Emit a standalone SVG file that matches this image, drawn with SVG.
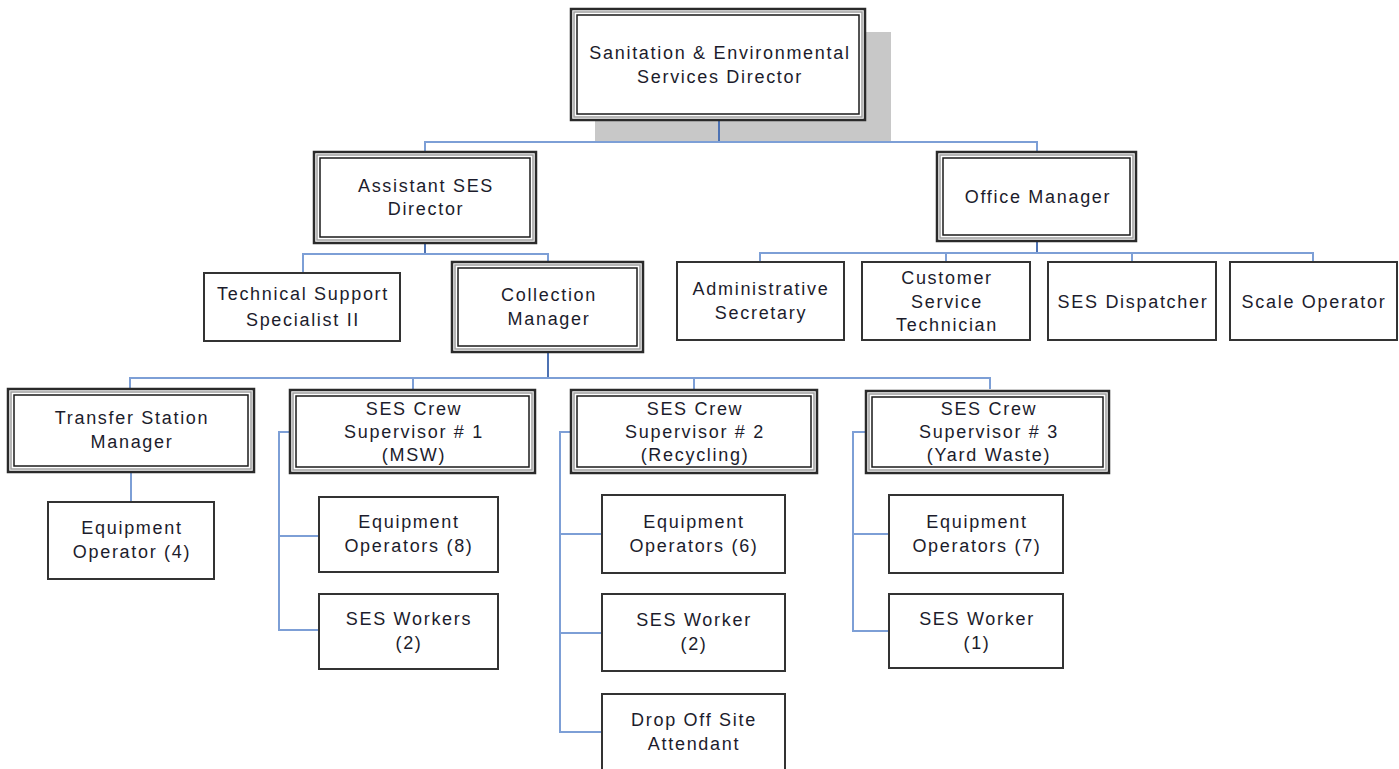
<svg xmlns="http://www.w3.org/2000/svg" width="1399" height="769" viewBox="0 0 1399 769">
<style>
.o{fill:#fff;stroke:#2a2a2a;stroke-width:2.5}
.m{fill:none;stroke:#a0a0a0;stroke-width:1.5}
.i{fill:none;stroke:#1a1a1a;stroke-width:1.5}
.s{fill:#fff;stroke:#333;stroke-width:2}
.c{fill:none;stroke:#7d9fd6;stroke-width:2}
.cd{fill:none;stroke:#4d72b3;stroke-width:2}
text{font-family:"Liberation Sans",Arial,sans-serif;font-size:18px;letter-spacing:1.7px;fill:#1c1c2c;text-anchor:middle}
</style>
<rect x="595" y="32" width="296" height="110" fill="#c8c8c8"/>
<g id="connectors">
<path class="cd" d="M719 120V142"/>
<path class="c" d="M425 152V142H1037V152"/>
<path class="cd" d="M425 243V254"/>
<path class="c" d="M303 273V254H548V262"/>
<path class="cd" d="M1037 241V253"/>
<path class="c" d="M760 262V253H1313V262M946 253V262M1132 253V262"/>
<path class="cd" d="M548 352V378"/>
<path class="c" d="M130 389V378H990V389M413 378V389M694 378V389"/>
<path class="c" d="M131 472V502"/>
<path class="c" d="M290 432H279V630H319M279 536H319"/>
<path class="c" d="M571 432H560V732H602M560 534H602M560 633H602"/>
<path class="c" d="M866 432H853V631H889M853 534H889"/>
</g>
<g id="director"><rect class="o" x="571" y="9" width="294" height="111"/><rect class="m" x="574" y="12" width="288" height="105"/><rect class="i" x="577" y="15" width="282" height="99"/><text x="720" y="59">Sanitation &amp; Environmental</text><text x="720" y="83">Services Director</text></g>
<g id="assistant"><rect class="o" x="314" y="152" width="222" height="91"/><rect class="m" x="317" y="155" width="216" height="85"/><rect class="i" x="320" y="158" width="210" height="79"/><text x="426" y="192">Assistant SES</text><text x="426" y="215">Director</text></g>
<g id="office"><rect class="o" x="937" y="152" width="199" height="89"/><rect class="m" x="940" y="155" width="193" height="83"/><rect class="i" x="943" y="158" width="187" height="77"/><text x="1038" y="203">Office Manager</text></g>
<g id="techsupport"><rect class="s" x="204" y="273" width="196" height="68"/><text x="303" y="300">Technical Support</text><text x="303" y="326">Specialist II</text></g>
<g id="collection"><rect class="o" x="452" y="262" width="191" height="90"/><rect class="m" x="455" y="265" width="185" height="84"/><rect class="i" x="458" y="268" width="179" height="78"/><text x="549" y="301">Collection</text><text x="549" y="325">Manager</text></g>
<g id="adminsec"><rect class="s" x="677" y="262" width="167" height="78"/><text x="761" y="295">Administrative</text><text x="761" y="319">Secretary</text></g>
<g id="custservice"><rect class="s" x="862" y="262" width="168" height="78"/><text x="947" y="284">Customer</text><text x="947" y="308">Service</text><text x="947" y="331">Technician</text></g>
<g id="dispatcher"><rect class="s" x="1048" y="262" width="168" height="78"/><text x="1133" y="308">SES Dispatcher</text></g>
<g id="scale"><rect class="s" x="1230" y="262" width="167" height="78"/><text x="1314" y="308">Scale Operator</text></g>
<g id="transfer"><rect class="o" x="8" y="389" width="246" height="83"/><rect class="m" x="11" y="392" width="240" height="77"/><rect class="i" x="14" y="395" width="234" height="71"/><text x="132" y="424">Transfer Station</text><text x="132" y="448">Manager</text></g>
<g id="crew1"><rect class="o" x="290" y="390" width="245" height="83"/><rect class="m" x="293" y="393" width="239" height="77"/><rect class="i" x="296" y="396" width="233" height="71"/><text x="414" y="415">SES Crew</text><text x="414" y="438">Supervisor # 1</text><text x="414" y="461">(MSW)</text></g>
<g id="crew2"><rect class="o" x="571" y="390" width="246" height="83"/><rect class="m" x="574" y="393" width="240" height="77"/><rect class="i" x="577" y="396" width="234" height="71"/><text x="695" y="415">SES Crew</text><text x="695" y="438">Supervisor # 2</text><text x="695" y="461">(Recycling)</text></g>
<g id="crew3"><rect class="o" x="866" y="391" width="243" height="82"/><rect class="m" x="869" y="394" width="237" height="76"/><rect class="i" x="872" y="397" width="231" height="70"/><text x="989" y="415">SES Crew</text><text x="989" y="438">Supervisor # 3</text><text x="989" y="461">(Yard Waste)</text></g>
<g id="equip4"><rect class="s" x="48" y="502" width="166" height="77"/><text x="132" y="534">Equipment</text><text x="132" y="558">Operator (4)</text></g>
<g id="equip8"><rect class="s" x="319" y="497" width="179" height="75"/><text x="409" y="528">Equipment</text><text x="409" y="552">Operators (8)</text></g>
<g id="workers2"><rect class="s" x="319" y="594" width="179" height="75"/><text x="409" y="625">SES Workers</text><text x="409" y="649">(2)</text></g>
<g id="equip6"><rect class="s" x="602" y="495" width="183" height="78"/><text x="694" y="528">Equipment</text><text x="694" y="552">Operators (6)</text></g>
<g id="worker2"><rect class="s" x="602" y="594" width="183" height="77"/><text x="694" y="626">SES Worker</text><text x="694" y="650">(2)</text></g>
<g id="dropoff"><rect class="s" x="602" y="694" width="183" height="80"/><text x="694" y="726">Drop Off Site</text><text x="694" y="750">Attendant</text></g>
<g id="equip7"><rect class="s" x="889" y="495" width="174" height="78"/><text x="977" y="528">Equipment</text><text x="977" y="552">Operators (7)</text></g>
<g id="worker1"><rect class="s" x="889" y="594" width="174" height="74"/><text x="977" y="625">SES Worker</text><text x="977" y="649">(1)</text></g>
</svg>
